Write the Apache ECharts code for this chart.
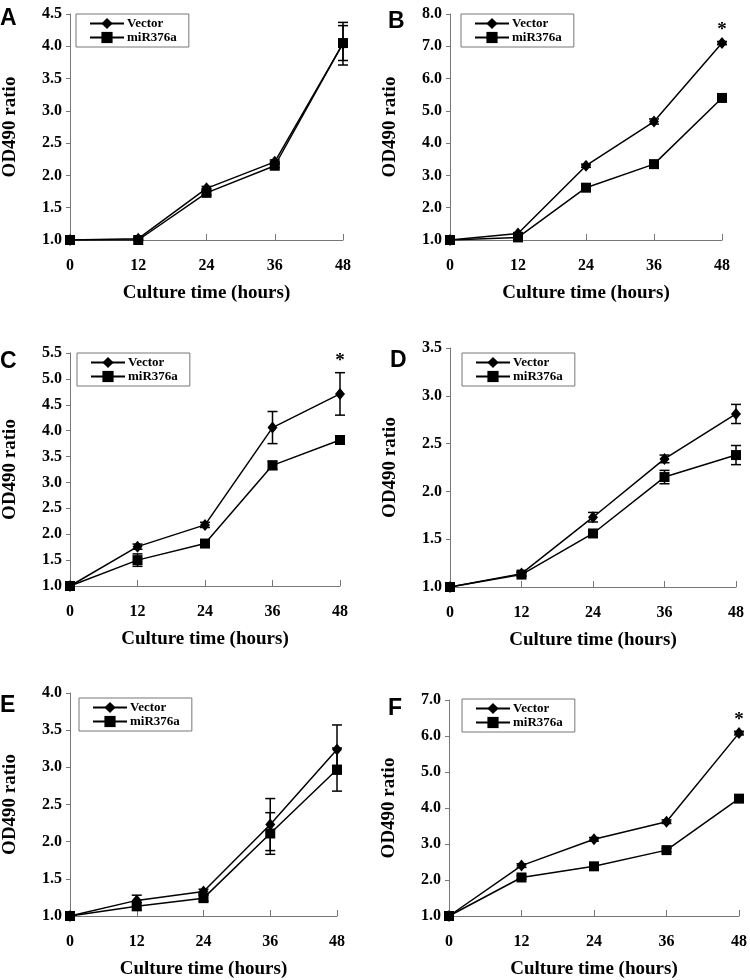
<!DOCTYPE html>
<html lang="en">

<head>
    <meta charset="UTF-8">
    <title>OD490 ratio panels</title>
    <script src="https://cdn.jsdelivr.net/npm/echarts@6/dist/echarts.min.js"></script>
    <style>
        html, body { margin: 0; padding: 0; background: #fff; }
        #main { width: 750px; height: 980px; }
    </style>
</head>

<body>
    <div id="main"></div>

    <script>
        // time points shared by all panels
        var hours = [0, 12, 24, 36, 48];
        var panelLetters = ['A', 'B', 'C', 'D', 'E', 'F'];
        var yMax = [4.5, 8.0, 5.5, 3.5, 4.0, 7.0];
        var yStep = [0.5, 1.0, 0.5, 0.5, 0.5, 1.0];

        // means and error bars
        var vectorA = [1.00, 1.02, 1.80, 2.21, 4.04];
        var mirA = [1.00, 1.00, 1.73, 2.15, 4.05];
        var vectorErrA = [0, 0.02, 0.03, 0.03, 0.33];
        var mirErrA = [0, 0.01, 0.03, 0.03, 0.27];

        var vectorB = [1.00, 1.20, 3.30, 4.67, 7.10];
        var mirB = [1.00, 1.08, 2.62, 3.35, 5.40];
        var vectorErrB = [0, 0.03, 0.05, 0.08, 0.05];
        var mirErrB = [0, 0.02, 0.05, 0.05, 0.05];

        var vectorC = [1.00, 1.76, 2.18, 4.06, 4.71];
        var mirC = [1.00, 1.50, 1.82, 3.33, 3.82];
        var vectorErrC = [0, 0.05, 0.05, 0.31, 0.41];
        var mirErrC = [0, 0.12, 0.04, 0.08, 0.04];

        var vectorD = [1.00, 1.14, 1.73, 2.34, 2.81];
        var mirD = [1.00, 1.13, 1.56, 2.15, 2.38];
        var vectorErrD = [0, 0.02, 0.05, 0.04, 0.10];
        var mirErrD = [0, 0.02, 0.03, 0.07, 0.10];

        var vectorE = [1.00, 1.21, 1.33, 2.23, 3.24];
        var mirE = [1.00, 1.13, 1.24, 2.11, 2.97];
        var vectorErrE = [0, 0.07, 0.03, 0.35, 0.33];
        var mirErrE = [0, 0.05, 0.04, 0.28, 0.29];

        var vectorF = [1.00, 2.40, 3.13, 3.62, 6.08];
        var mirF = [1.00, 2.07, 2.38, 2.83, 4.26];
        var vectorErrF = [0, 0.05, 0.05, 0.05, 0.05];
        var mirErrF = [0, 0.05, 0.05, 0.05, 0.05];

        // index of Vector points marked with *
        var starA = [], starB = [4], starC = [4], starD = [], starE = [], starF = [4];

        var vectors = [vectorA, vectorB, vectorC, vectorD, vectorE, vectorF];
        var mirs = [mirA, mirB, mirC, mirD, mirE, mirF];
        var vectorErrs = [vectorErrA, vectorErrB, vectorErrC, vectorErrD, vectorErrE, vectorErrF];
        var mirErrs = [mirErrA, mirErrB, mirErrC, mirErrD, mirErrE, mirErrF];
        var stars = [starA, starB, starC, starD, starE, starF];

        // layout of the six panels
        var grids = [
            { left: 67, top: 14, width: 276, height: 226 },
            { left: 450, top: 14, width: 272, height: 226 },
            { left: 67, top: 353, width: 273, height: 233 },
            { left: 450, top: 348, width: 286, height: 239 },
            { left: 67, top: 693, width: 270, height: 224 },
            { left: 449, top: 700, width: 293, height: 217 }
        ];
        var legendPos = [[76, 14], [461, 14], [77, 353], [462, 353], [79, 698], [462, 699]];
        var letterPos = [[0, 7], [388, 10], [0, 350], [390, 349], [0, 694], [388, 697]];

        var serif = 'Liberation Serif';
        var axisGray = '#777';

        var chart = echarts.init(document.getElementById('main'));

        function errorBarItem(params, api) {
            var x = api.value(0);
            var hi = api.coord([x, api.value(2)]);
            var lo = api.coord([x, api.value(1)]);
            var star = api.value(3);
            var cap = 5;
            var st = { stroke: '#000', lineWidth: 1.5 };
            var children = [];
            if (api.value(2) - api.value(1) > 0) {
                children.push(
                    { type: 'line', shape: { x1: hi[0], y1: hi[1], x2: lo[0], y2: lo[1] }, style: st },
                    { type: 'line', shape: { x1: hi[0] - cap, y1: hi[1], x2: hi[0] + cap, y2: hi[1] }, style: st },
                    { type: 'line', shape: { x1: lo[0] - cap, y1: lo[1], x2: lo[0] + cap, y2: lo[1] }, style: st }
                );
            }
            if (star) {
                children.push({
                    type: 'text', x: hi[0], y: hi[1] - 2,
                    style: { text: '*', fill: '#000', font: 'bold 19px "Liberation Serif"', align: 'center', verticalAlign: 'bottom' }
                });
            }
            return { type: 'group', children: children };
        }

        var xAxes = [], yAxes = [], series = [], legends = [], titles = [];

        for (var p = 0; p < 6; p++) {
            xAxes.push({
                gridIndex: p, type: 'value', min: 0, max: 48, interval: 12,
                name: 'Culture time (hours)', nameLocation: 'middle', nameGap: 44,
                nameTextStyle: { fontFamily: serif, fontWeight: 'bold', fontSize: 19, color: '#000' },
                axisLine: { lineStyle: { color: axisGray, width: 1 } },
                axisTick: { inside: true, length: 6, lineStyle: { color: axisGray } },
                axisLabel: { fontFamily: serif, fontWeight: 'bold', fontSize: 16, color: '#000', margin: 18 },
                splitLine: { show: false }
            });
            yAxes.push({
                gridIndex: p, type: 'value', min: 1.0, max: yMax[p], interval: yStep[p],
                name: 'OD490 ratio', nameLocation: 'middle', nameGap: 50,
                nameTextStyle: { fontFamily: serif, fontWeight: 'bold', fontSize: 19, color: '#000' },
                axisLine: { show: true, lineStyle: { color: axisGray, width: 1 } },
                axisTick: { show: true, length: 4, lineStyle: { color: axisGray } },
                axisLabel: {
                    fontFamily: serif, fontWeight: 'bold', fontSize: 16, color: '#000', margin: 8,
                    formatter: function (v) { return v.toFixed(1); }
                },
                splitLine: { show: false }
            });

            var vec = vectors[p], mir = mirs[p];
            var vecBars = hours.map(function (h, i) {
                return [h, vec[i] - vectorErrs[p][i], vec[i] + vectorErrs[p][i], stars[p].indexOf(i) >= 0 ? 1 : 0];
            });
            var mirBars = hours.map(function (h, i) {
                return [h, mir[i] - mirErrs[p][i], mir[i] + mirErrs[p][i], 0];
            });

            series.push({
                type: 'custom', xAxisIndex: p, yAxisIndex: p, z: 1, silent: true,
                renderItem: errorBarItem, encode: { x: 0, y: [1, 2] }, data: vecBars.concat(mirBars)
            });
            series.push({
                name: 'Vector', type: 'line', xAxisIndex: p, yAxisIndex: p, z: 3,
                symbol: 'diamond', symbolSize: [10, 12], showAllSymbol: true,
                itemStyle: { color: '#000' }, lineStyle: { color: '#000', width: 1.5 },
                data: hours.map(function (h, i) { return [h, vec[i]]; })
            });
            series.push({
                name: 'miR376a', type: 'line', xAxisIndex: p, yAxisIndex: p, z: 3,
                symbol: 'rect', symbolSize: 10, showAllSymbol: true,
                itemStyle: { color: '#000' }, lineStyle: { color: '#000', width: 1.5 },
                data: hours.map(function (h, i) { return [h, mir[i]]; })
            });

            legends.push({
                data: ['Vector', 'miR376a'], orient: 'vertical',
                left: legendPos[p][0], top: legendPos[p][1],
                padding: [3, 12, 3, 13], itemGap: 1, itemWidth: 34, itemHeight: 14,
                borderColor: axisGray, borderWidth: 1, selectedMode: false,
                textStyle: { fontFamily: serif, fontWeight: 'bold', fontSize: 13, color: '#000', padding: [0, 0, 0, -2] }
            });
            titles.push({
                text: panelLetters[p], left: letterPos[p][0], top: letterPos[p][1], padding: 0,
                textStyle: { fontFamily: 'Liberation Sans', fontWeight: 'bold', fontSize: 23, color: '#000' }
            });
        }

        chart.setOption({
            animation: false,
            backgroundColor: '#fff',
            title: titles,
            legend: legends,
            grid: grids,
            xAxis: xAxes,
            yAxis: yAxes,
            series: series
        });
    </script>

</body>

</html>
